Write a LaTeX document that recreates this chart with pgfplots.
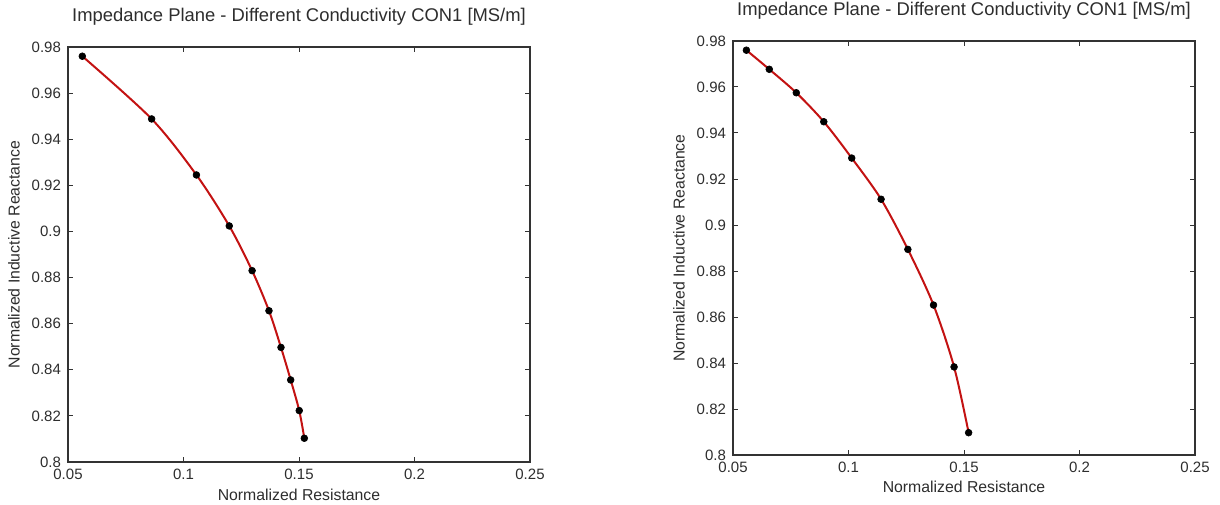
\documentclass[border=0pt]{standalone}
\usepackage{fontspec}
\setmainfont{Liberation Sans}
\usepackage{pgfplots}
\pgfplotsset{compat=1.18}
\definecolor{curvered}{RGB}{195,18,18}
\definecolor{txt}{RGB}{45,45,45}
\pgfplotsset{
  matlabstyle/.style={
    scale only axis,
    width=231pt, height=207.5pt,
    xmin=0.05, xmax=0.25, ymin=0.8, ymax=0.98,
    xtick={0.05,0.1,0.15,0.2,0.25},
    xticklabels={0.05,0.1,0.15,0.2,0.25},
    ytick={0.8,0.82,0.84,0.86,0.88,0.9,0.92,0.94,0.96,0.98},
    yticklabels={0.8,0.82,0.84,0.86,0.88,0.9,0.92,0.94,0.96,0.98},
    tick align=inside, tick pos=both,
    major tick length=2.5pt,
    axis line style={black!80, line width=0.6pt},
    every tick/.style={black!80, line width=0.5pt},
    tick label style={font=\fontsize{7.5}{8}\selectfont, text=txt},
    title={Impedance Plane - Different Conductivity CON1 [MS/m]},
    title style={at={(axis description cs:0.5,1)}, anchor=base, yshift=6.9pt,
      font=\fontsize{9.2}{10}\selectfont, text=txt, inner sep=0pt},
    xlabel={Normalized Resistance},
    xlabel style={at={(axis description cs:0.5,-0.0916)}, anchor=base,
      font=\fontsize{7.9}{9}\selectfont, text=txt, inner sep=0pt},
    ylabel={Normalized Inductive Reactance},
    ylabel style={at={(axis description cs:-0.117,0.5)}, anchor=center, rotate=0,
      font=\fontsize{7.9}{9}\selectfont, text=txt, inner sep=0pt},
    clip=false,
  },
  curve/.style={curvered, line width=1pt, smooth, mark=*,
    mark size=1.7pt, mark options={fill=black, draw=black, line width=0.3pt}},
}
\begin{document}
\begin{tikzpicture}
\path[use as bounding box] (0,0) rectangle (610pt,252pt);
\begin{axis}[matlabstyle, at={(34pt,21pt)}, anchor=south west]
\addplot[curve] coordinates {
(0.0562,0.9760)
(0.0862,0.9488)
(0.1056,0.9245)
(0.1198,0.9024)
(0.1297,0.8830)
(0.1370,0.8656)
(0.1422,0.8497)
(0.1464,0.8356)
(0.1501,0.8223)
(0.1523,0.8103)
};
\end{axis}
\begin{axis}[matlabstyle, at={(366.5pt,24.5pt)}, anchor=south west, height=207pt]
\addplot[curve] coordinates {
(0.0558,0.9760)
(0.0657,0.9677)
(0.0774,0.9575)
(0.0893,0.9449)
(0.1014,0.9291)
(0.1141,0.9112)
(0.1257,0.8894)
(0.1368,0.8652)
(0.1457,0.8383)
(0.1520,0.8097)
};
\end{axis}
\end{tikzpicture}
\end{document}
